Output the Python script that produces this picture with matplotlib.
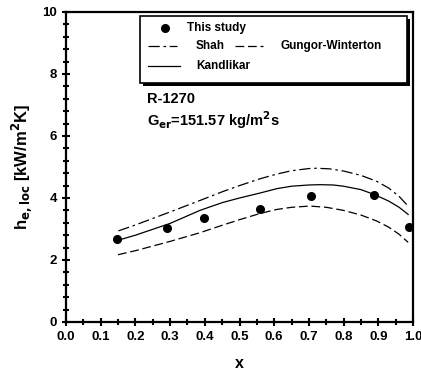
import numpy as np
import matplotlib.pyplot as plt
from matplotlib.lines import Line2D
from matplotlib.patches import Rectangle
from matplotlib.ticker import MultipleLocator

plt.rcParams['font.family'] = ['Liberation Sans', 'DejaVu Sans']
plt.rcParams['font.weight'] = 'bold'

# measured data (This study)
x_exp = [0.148, 0.29, 0.399, 0.559, 0.705, 0.889, 0.988]
h_exp = [2.69, 3.04, 3.37, 3.66, 4.06, 4.09, 3.07]

# correlations
x_shah = [0.151, 0.2, 0.3, 0.386, 0.45, 0.5, 0.559, 0.607, 0.65, 0.7, 0.722, 0.76, 0.8, 0.85, 0.895, 0.93, 0.96, 0.986]
h_shah = [2.94, 3.13, 3.55, 3.92, 4.2, 4.4, 4.62, 4.77, 4.88, 4.95, 4.96, 4.94, 4.87, 4.73, 4.54, 4.32, 4.05, 3.74]

x_kand = [0.16, 0.2, 0.3, 0.386, 0.45, 0.5, 0.559, 0.607, 0.65, 0.7, 0.732, 0.77, 0.8, 0.85, 0.889, 0.93, 0.96, 0.986]
h_kand = [2.67, 2.8, 3.18, 3.6, 3.85, 4.0, 4.16, 4.3, 4.38, 4.42, 4.43, 4.42, 4.38, 4.27, 4.11, 3.9, 3.7, 3.47]

x_gw = [0.15, 0.2, 0.3, 0.386, 0.45, 0.5, 0.559, 0.607, 0.65, 0.703, 0.75, 0.8, 0.85, 0.895, 0.93, 0.96, 0.986]
h_gw = [2.17, 2.3, 2.6, 2.88, 3.12, 3.3, 3.5, 3.63, 3.7, 3.74, 3.7, 3.6, 3.45, 3.26, 3.06, 2.83, 2.57]

shah_style = dict(color='black', lw=0.9, dashes=(9, 3, 2, 3))
gw_style = dict(color='black', lw=0.9, dashes=(7, 3))
kand_style = dict(color='black', lw=0.9)
exp_style = dict(color='black', marker='o', ls='none', ms=5.5)

fig = plt.figure(figsize=(4.21, 3.74), dpi=100)
ax = fig.add_axes([66 / 421, 52 / 374, 347 / 421, 310 / 374])

ax.plot(x_shah, h_shah, **shah_style)
ax.plot(x_gw, h_gw, **gw_style)
ax.plot(x_kand, h_kand, **kand_style)
ax.plot(x_exp, h_exp, clip_on=False, zorder=5, **exp_style)

ax.set_xlim(0, 1.0)
ax.set_ylim(0, 10)
ax.xaxis.set_major_locator(MultipleLocator(0.1))
ax.xaxis.set_minor_locator(MultipleLocator(0.05))
ax.yaxis.set_major_locator(MultipleLocator(2))
ax.yaxis.set_minor_locator(MultipleLocator(0.4))
ax.xaxis.set_major_formatter(lambda v, p: f'{v:.1f}')
ax.tick_params(which='both', direction='inout', top=False, right=False,
               width=1.5, labelsize=9.5)
ax.tick_params(which='major', length=6)
ax.tick_params(which='minor', length=4)
for s in ax.spines.values():
    s.set_linewidth(1.6)

ax.set_xlabel('x', fontsize=11.5, fontweight='bold', labelpad=9)
ax.set_ylabel(r'h$_{\mathbf{e,loc}}$ [kW/m$^{\mathbf{2}}$K]', fontsize=12,
              fontweight='bold', labelpad=6)

# legend box with drop shadow
tr = ax.transAxes
ax.add_patch(Rectangle((0.222, 0.761), 0.77, 0.216, transform=tr,
                       facecolor='black', edgecolor='none', zorder=6))
ax.add_patch(Rectangle((0.213, 0.771), 0.77, 0.216, transform=tr,
                       facecolor='white', edgecolor='black', lw=1.2, zorder=7))
ax.add_line(Line2D([0.285], [0.947], transform=tr, zorder=8, **exp_style))
ax.add_line(Line2D([0.236, 0.319], [0.889, 0.889], transform=tr, zorder=8, **shah_style))
ax.add_line(Line2D([0.487, 0.568], [0.889, 0.889], transform=tr, zorder=8, **gw_style))
ax.add_line(Line2D([0.236, 0.329], [0.826, 0.826], transform=tr, zorder=8, **kand_style))
leg_kw = dict(transform=tr, fontsize=8.5, fontweight='bold', va='center', zorder=9)
ax.text(0.348, 0.947, 'This study', **leg_kw)
ax.text(0.375, 0.889, 'Shah', **leg_kw)
ax.text(0.617, 0.889, 'Gungor-Winterton', **leg_kw)
ax.text(0.375, 0.826, 'Kandlikar', **leg_kw)

ax.text(0.232, 0.718, 'R-1270', transform=tr, fontsize=10.5, fontweight='bold', va='center')
ax.text(0.232, 0.652, r'G$_{\mathbf{er}}$=151.57 kg/m$^{\mathbf{2}}$s', transform=tr,
        fontsize=10.5, fontweight='bold', va='center')

fig.savefig('out.png', dpi=100)
